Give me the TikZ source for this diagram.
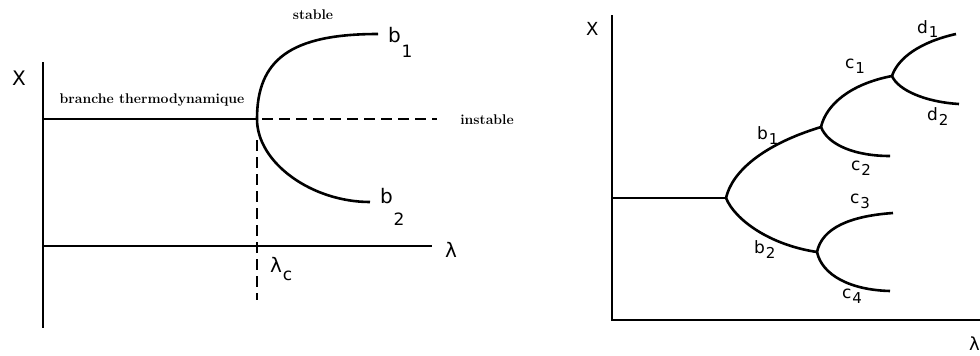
\documentclass[tikz,border=0pt]{standalone}
\usepackage{fontspec}
\newfontfamily\labfont{DejaVu Sans}
\newcommand{\MyLab}[5]{{\labfont\fontsize{#1}{#1}\selectfont #2\hspace{0.8pt}\raisebox{-#5}{\fontsize{#3}{#3}\selectfont #4}}}
\newcommand{\MyTxt}{\fontsize{14}{16}\selectfont\bfseries}
\begin{document}
\begin{tikzpicture}[x=1pt,y=-1pt,
  thickline/.style={line width=2.6pt},
  dashline/.style={line width=2.6pt, dash pattern=on 11pt off 6pt},
  every node/.style={inner sep=0pt},
  lab/.style={anchor=base west}]
\useasboundingbox (0,0) rectangle (980,356);
% ---------------- left panel ----------------
\coordinate (yT) at (43,62);
\coordinate (yB) at (43,328);
\coordinate (xL) at (43,246);
\coordinate (xR) at (432,246);
\coordinate (th0) at (43,119);
\coordinate (bif) at (257,119);
\coordinate (b1e) at (378,34);
\coordinate (b2e) at (370,202);
\coordinate (dashS) at (262,119);
\coordinate (dashE) at (437,119);
\coordinate (vT) at (257,140);
\coordinate (vB) at (257,300);
\draw[thickline] (yT) -- (yB);
\draw[thickline] (xL) -- (xR);
\draw[thickline] (th0) -- (bif);
\draw[thickline] (bif) .. controls (257,60) and (290,34) .. (b1e);
\draw[thickline] (bif) .. controls (257,163) and (312,202) .. (b2e);
\draw[dashline] (dashS) -- (dashE);
\draw[dashline] (vT) -- (vB);
\node[lab] (XL) at (12,85) {\labfont\fontsize{20}{20}\selectfont X};
\node[lab] (lamL) at (445,257) {\labfont\fontsize{20}{20}\selectfont λ};
\node[lab] (lamc) at (270,272) {\MyLab{20}{λ}{17}{c}{8pt}};
\node[lab] (b1L) at (388,42) {\MyLab{20}{b}{17}{1}{15pt}};
\node[lab] (b2L) at (380,203) {\MyLab{20}{b}{17}{2}{22pt}};
\node (stab) at (313,15) {\MyTxt stable};
\node (inst) at (487,120) {\MyTxt instable};
\node (branch) at (152,100) {\MyTxt branche thermodynamique};
% ---------------- right panel ----------------
\coordinate (YT) at (612,15);
\coordinate (O) at (612,320);
\coordinate (XR) at (980,320);
\coordinate (h0) at (612,198);
\coordinate (B) at (726,198);
\coordinate (C1) at (821,127);
\coordinate (C2) at (817,252);
\coordinate (D) at (892,76);
\coordinate (c2e) at (890,156);
\coordinate (d1e) at (956,34);
\coordinate (d2e) at (959,104);
\coordinate (c3e) at (893,213);
\coordinate (c4e) at (890,291);
\draw[thickline] (YT) -- (O) -- (XR);
\draw[thickline] (h0) -- (B);
\draw[thickline] (B) .. controls (732,172) and (762,145) .. (C1);
\draw[thickline] (B) .. controls (735,220) and (770,245) .. (C2);
\draw[thickline] (C1) .. controls (826,105) and (850,84) .. (D);
\draw[thickline] (C1) .. controls (828,145) and (855,156) .. (c2e);
\draw[thickline] (D) .. controls (898,58) and (920,42) .. (d1e);
\draw[thickline] (D) .. controls (898,90) and (925,102) .. (d2e);
\draw[thickline] (C2) .. controls (822,228) and (850,216) .. (c3e);
\draw[thickline] (C2) .. controls (822,275) and (850,290) .. (c4e);
\node[lab] (XRl) at (586,35) {\labfont\fontsize{18}{18}\selectfont X};
\node[anchor=base east] (lamR) at (980,350) {\labfont\fontsize{18}{18}\selectfont λ};
\node[lab] (b1R) at (757,139) {\MyLab{17}{b}{15}{1}{5pt}};
\node[lab] (b2R) at (754,253) {\MyLab{17}{b}{15}{2}{5pt}};
\node[lab] (c1R) at (845,68) {\MyLab{17}{c}{15}{1}{5pt}};
\node[lab] (c2R) at (851,170) {\MyLab{17}{c}{15}{2}{5pt}};
\node[lab] (c3R) at (850,203) {\MyLab{17}{c}{15}{3}{5pt}};
\node[lab] (c4R) at (842,298) {\MyLab{17}{c}{15}{4}{5pt}};
\node[lab] (d1R) at (917,33) {\MyLab{17}{d}{15}{1}{5pt}};
\node[lab] (d2R) at (927,120) {\MyLab{17}{d}{15}{2}{5pt}};
\end{tikzpicture}
\end{document}
